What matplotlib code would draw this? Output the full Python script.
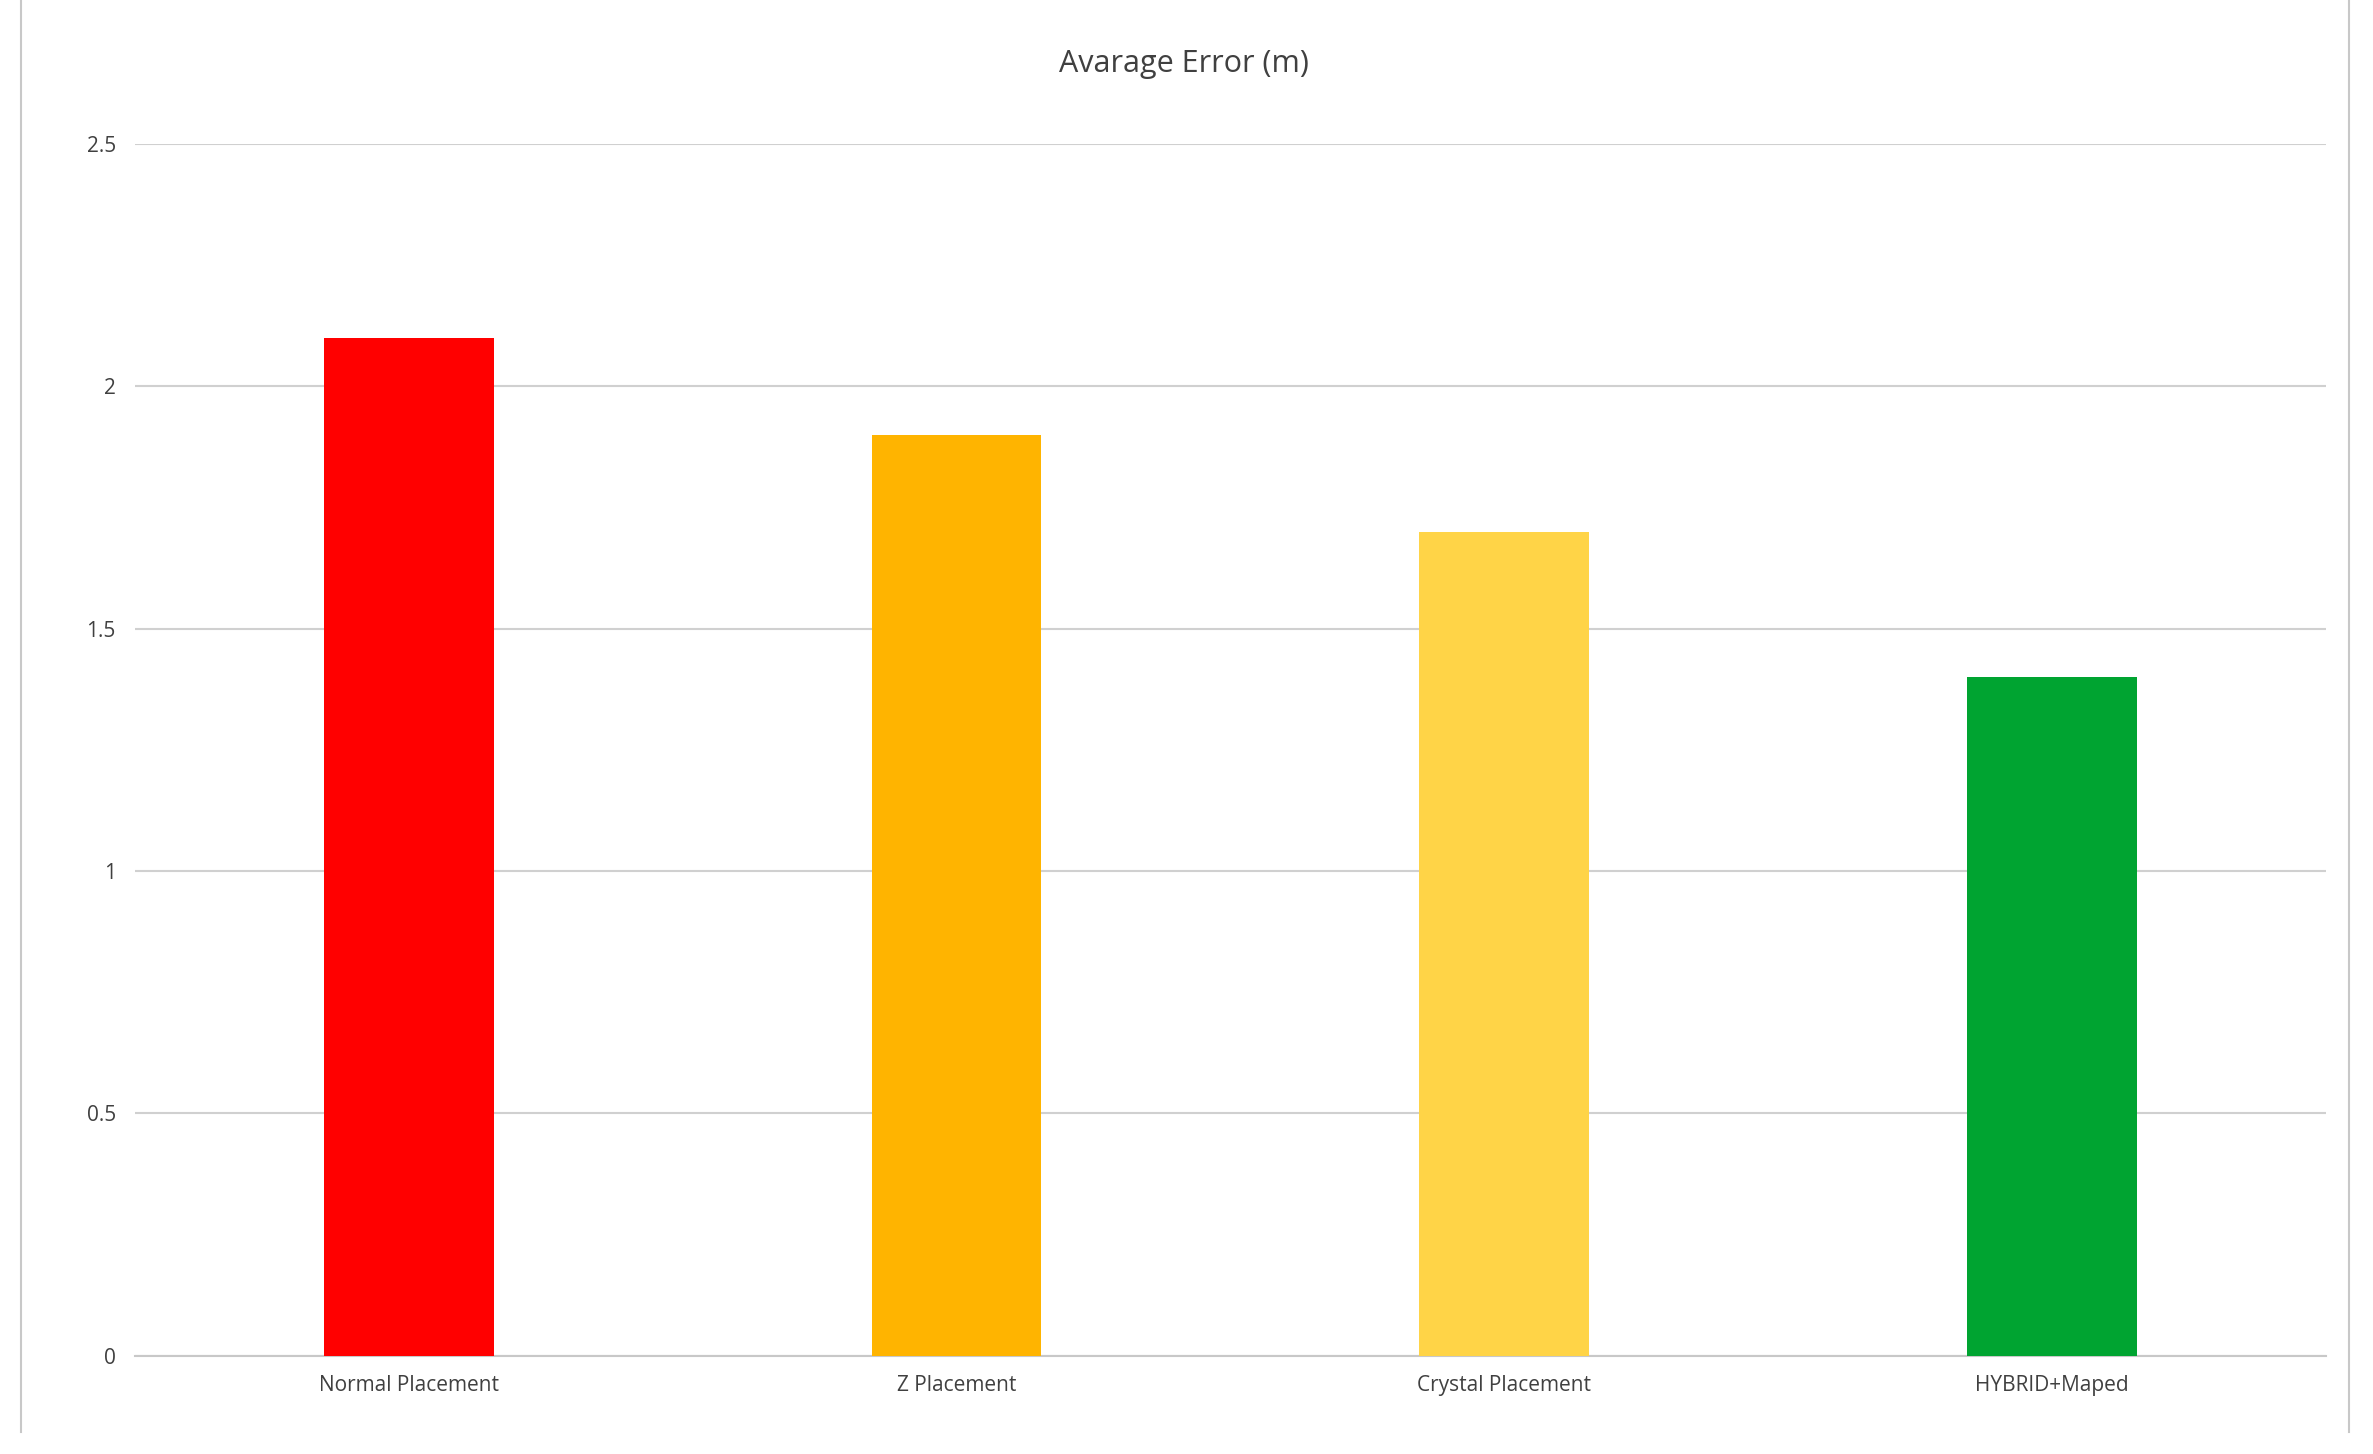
import matplotlib
matplotlib.use("Agg")
import matplotlib.pyplot as plt
from matplotlib.lines import Line2D

categories = ["Normal Placement", "Z Placement", "Crystal Placement", "HYBRID+Maped"]
values = [2.1, 1.9, 1.7, 1.4]
colors = ["#FF0000", "#FFB400", "#FFD447", "#00A431"]
yticks = [0, 0.5, 1, 1.5, 2, 2.5]
ytick_labels = ["0", "0.5", "1", "1.5", "2", "2.5"]

plt.rcParams['font.family'] = ['Open Sans', 'DejaVu Sans']
fig = plt.figure(figsize=(23.73, 14.54), dpi=100)
ax = fig.add_axes([0.057, 0.0677, 0.923, 0.8333])
ax.bar(range(len(categories)), values, width=0.31, color=colors, zorder=3)
ax.set_xlim(-0.5, 3.5)
ax.set_ylim(0, 2.5)
ax.set_yticks(yticks)
ax.set_yticklabels(ytick_labels, fontsize=15, color="#404040")
ax.set_xticks(range(len(categories)))
ax.set_xticklabels(categories, fontsize=15, color="#404040")
ax.tick_params(length=0, pad=14)
ax.grid(axis="y", color="#D0D0D0", linewidth=1.5, zorder=0)
for s in ["top", "right", "left"]:
    ax.spines[s].set_visible(False)
ax.spines["bottom"].set_color("#C8C8C8")
ax.spines["bottom"].set_linewidth(1.5)
fig.text(0.499, 0.956, "Avarage Error (m)", ha="center", va="center", fontsize=22, color="#404040")
# outer frame lines
fig.add_artist(Line2D([0.009, 0.009], [0.015, 1.0], color="#C8C8C8", lw=1.5))
fig.add_artist(Line2D([0.99, 0.99], [0.015, 1.0], color="#C8C8C8", lw=1.5))
fig.savefig("out.png", dpi=100, facecolor="white")
